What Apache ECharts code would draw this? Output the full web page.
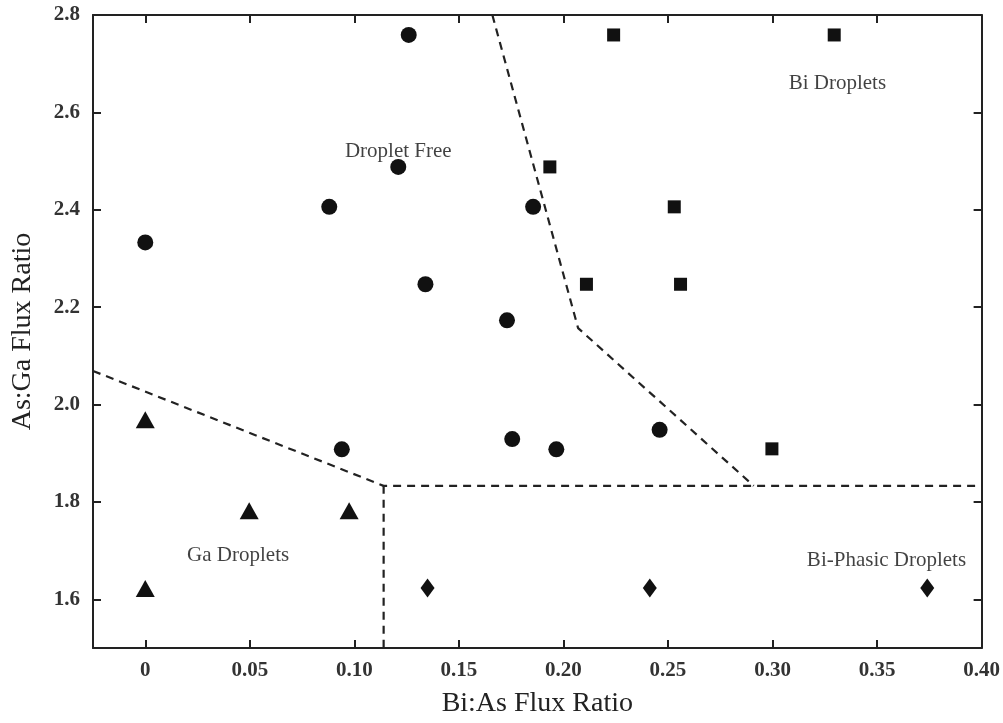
<!DOCTYPE html>
<html>
<head>
<meta charset="utf-8">
<title>Flux ratio droplet map</title>
<script src="https://cdn.jsdelivr.net/npm/echarts@6/dist/echarts.min.js"></script>
<style>
  html, body { margin: 0; padding: 0; background: #fff; }
  #chart { width: 1003px; height: 723px; }
</style>
</head>
<body>
<div id="chart"></div>
<script>
// Bi:As flux ratio (x) and As:Ga flux ratio (y) for each growth run
const freeX = [0, 0.126, 0.121, 0.088, 0.134, 0.173, 0.1855, 0.094, 0.1755, 0.1966, 0.246];
const freeY = [2.333, 2.759, 2.488, 2.406, 2.247, 2.173, 2.406, 1.908, 1.929, 1.908, 1.948];

const biX = [0.224, 0.3295, 0.1935, 0.253, 0.211, 0.256, 0.2997];
const biY = [2.759, 2.759, 2.488, 2.406, 2.247, 2.247, 1.909];

const gaX = [0, 0.0497, 0.0975, 0];
const gaY = [1.969, 1.782, 1.782, 1.622];

const phaseX = [0.135, 0.2413, 0.374];
const phaseY = [1.623, 1.623, 1.623];

// Dashed phase boundaries
const bound1X = [-0.025, 0.114, 0.40];
const bound1Y = [2.069, 1.833, 1.833];
const bound2X = [0.114, 0.114];
const bound2Y = [1.833, 1.5];
const bound3X = [0.166, 0.207, 0.291];
const bound3Y = [2.8, 2.157, 1.833];

// Region names
const regionNames = ['Droplet Free', 'Bi Droplets', 'Ga Droplets', 'Bi-Phasic Droplets'];
const regionX = [0.121, 0.331, 0.0444, 0.3545];
const regionY = [2.520, 2.660, 1.690, 1.680];

// Tick positions
const xTicks = [0, 0.05, 0.10, 0.15, 0.20, 0.25, 0.30, 0.35, 0.40];
const yTicks = [1.6, 1.8, 2.0, 2.2, 2.4, 2.6, 2.8];

const pairs = (xs, ys) => xs.map((x, i) => [x, ys[i]]);

const serif = '"Liberation Serif", "DejaVu Serif", serif';
const ink = '#111';

const axisLineStyle = { color: '#222', width: 2 };
const tickStyle = { color: '#222', width: 2 };

function xAxisDef(pos, showLabels) {
  return {
    type: 'value',
    position: pos,
    min: -0.025,
    max: 0.40,
    name: showLabels ? 'Bi:As Flux Ratio' : '',
    nameLocation: 'middle',
    nameGap: 42,
    nameTextStyle: { fontFamily: serif, fontSize: 28, color: '#222' },
    axisLine: { show: true, onZero: false, lineStyle: axisLineStyle },
    axisTick: { show: true, inside: true, length: 8, lineStyle: tickStyle, customValues: xTicks.slice(0, -1) },
    axisLabel: {
      show: showLabels,
      customValues: xTicks,
      margin: 12,
      fontFamily: serif, fontSize: 21, fontWeight: 'bold', color: '#333',
      formatter: v => (Math.abs(v) < 1e-9 ? '0' : v.toFixed(2))
    },
    splitLine: { show: false }
  };
}

function yAxisDef(pos, showLabels) {
  return {
    type: 'value',
    position: pos,
    min: 1.5,
    max: 2.8,
    name: showLabels ? 'As:Ga Flux Ratio' : '',
    nameLocation: 'middle',
    nameGap: 56,
    nameRotate: 90,
    nameTextStyle: { fontFamily: serif, fontSize: 28, color: '#222' },
    axisLine: { show: true, onZero: false, lineStyle: axisLineStyle },
    axisTick: { show: true, inside: true, length: 8, lineStyle: tickStyle, customValues: yTicks.slice(0, -1) },
    axisLabel: {
      show: showLabels,
      customValues: yTicks,
      margin: 13,
      fontFamily: serif, fontSize: 21, fontWeight: 'bold', color: '#333',
      formatter: v => v.toFixed(1)
    },
    splitLine: { show: false }
  };
}

function boundary(xs, ys) {
  return {
    type: 'line',
    data: pairs(xs, ys),
    symbol: 'none',
    silent: true,
    z: 1,
    lineStyle: { color: '#222', width: 2.2, type: [8, 6] }
  };
}

function points(xs, ys, symbol, size) {
  return {
    type: 'scatter',
    data: pairs(xs, ys),
    symbol: symbol,
    symbolSize: size,
    z: 3,
    itemStyle: { color: ink, opacity: 1 }
  };
}

const chart = echarts.init(document.getElementById('chart'), null, { renderer: 'canvas' });

chart.setOption({
  animation: false,
  backgroundColor: '#fff',
  grid: { left: 93, top: 15, right: 20, bottom: 71, containLabel: false },
  xAxis: [xAxisDef('bottom', true), xAxisDef('top', false)],
  yAxis: [yAxisDef('left', true), yAxisDef('right', false)],
  series: [
    boundary(bound1X, bound1Y),
    boundary(bound2X, bound2Y),
    boundary(bound3X, bound3Y),
    points(freeX, freeY, 'circle', 16),
    points(biX, biY, 'rect', 13),
    points(gaX, gaY, 'triangle', [19, 17]),
    points(phaseX, phaseY, 'diamond', [14, 19]),
    {
      type: 'scatter',
      data: regionNames.map((n, i) => ({ name: n, value: [regionX[i], regionY[i]] })),
      symbolSize: 0,
      silent: true,
      z: 4,
      label: {
        show: true,
        position: 'inside',
        formatter: p => p.name,
        fontFamily: serif,
        fontSize: 21,
        color: '#111'
      }
    }
  ]
});
</script>
</body>
</html>
